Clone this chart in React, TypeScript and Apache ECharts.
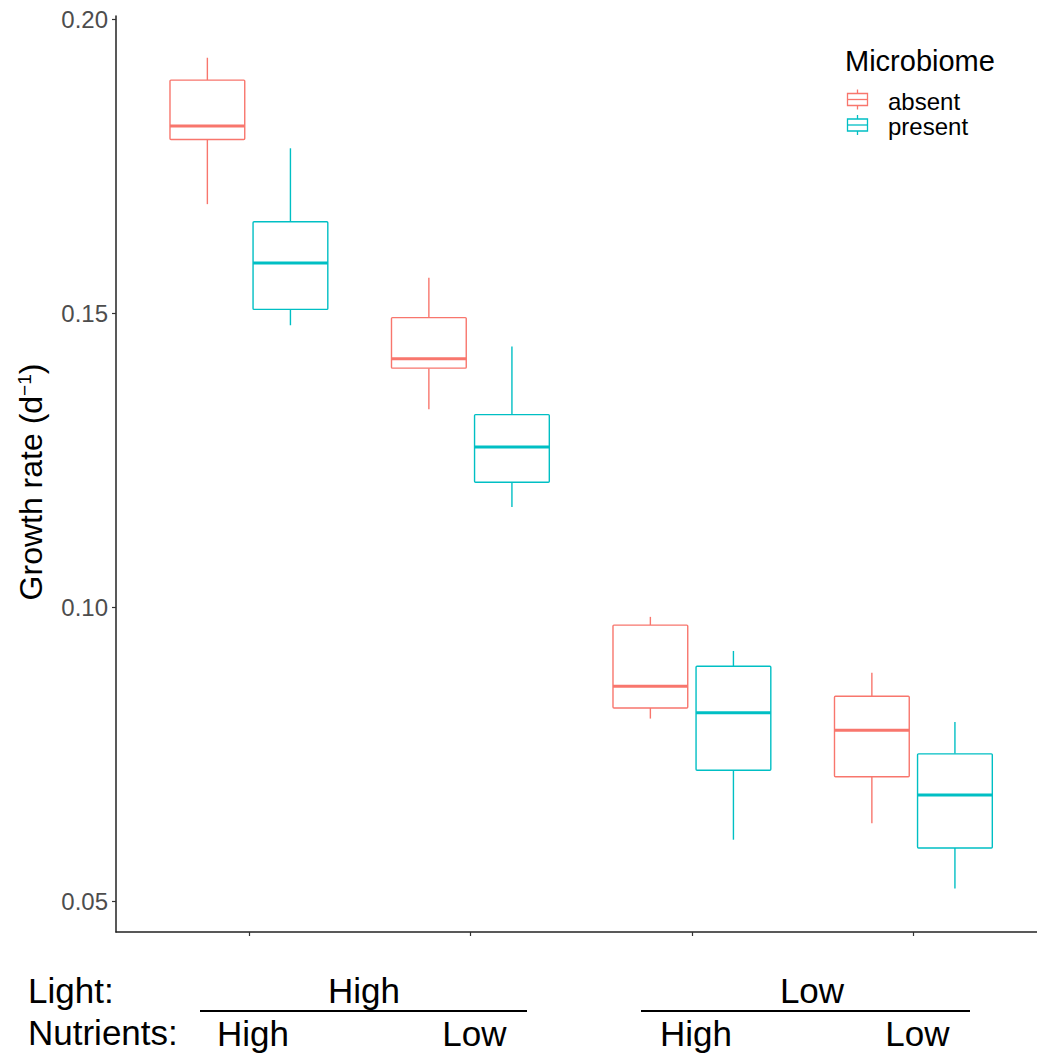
import React, { useEffect, useRef } from "react";
import * as echarts from "echarts";

// ---- data ----
const categories = ["HighLight-HighNutr", "HighLight-LowNutr", "LowLight-HighNutr", "LowLight-LowNutr"];
const nutrientLabels = ["High", "Low", "High", "Low"];
const lightLabels = ["High", "Low"];
const seriesNames = ["absent", "present"];
const seriesColors = ["#F8766D", "#00BFC4"];
// [min, Q1, median, Q3, max]
const absentStats = [
  [0.1686, 0.1796, 0.1819, 0.1897, 0.1935],
  [0.1337, 0.1407, 0.1423, 0.1493, 0.1561],
  [0.0811, 0.0829, 0.0866, 0.097, 0.0984],
  [0.0633, 0.0712, 0.0791, 0.0849, 0.0889],
];
const presentStats = [
  [0.148, 0.1507, 0.1586, 0.1656, 0.1781],
  [0.1171, 0.1213, 0.1273, 0.1328, 0.1444],
  [0.0605, 0.0723, 0.0821, 0.09, 0.0926],
  [0.0522, 0.0591, 0.0681, 0.0751, 0.0805],
];
const yTicks = [0.05, 0.1, 0.15, 0.2];

const FONT = "'Liberation Sans', Arial, Helvetica, sans-serif";

export default function App() {
  const ref = useRef<HTMLDivElement>(null);
  useEffect(() => {
    if (!ref.current) return;
    const chart = echarts.init(ref.current, null, { renderer: "svg" });
    const xTicks = categories.map((_, i) => i + 1);
    const allStats = [absentStats, presentStats];
    const dodge = [-0.1875, 0.1875];

    const series = allStats.map((stats, si) => ({
      type: "custom",
      name: seriesNames[si],
      data: stats.map((s, i) => [i + 1, ...s]),
      encode: { x: 0, y: [1, 2, 3, 4, 5] },
      renderItem: (params: any, api: any) => {
        const x = api.value(0);
        const lo = api.coord([x, api.value(1)]);
        const q1 = api.coord([x, api.value(2)]);
        const med = api.coord([x, api.value(3)]);
        const q3 = api.coord([x, api.value(4)]);
        const hi = api.coord([x, api.value(5)]);
        const unit = api.size([1, 0])[0];
        const cx = lo[0] + dodge[si] * unit;
        const half = (0.9 * 0.375 * unit) / 2;
        const color = seriesColors[si];
        const lw = 1.4;
        return {
          type: "group",
          children: [
            { type: "line", shape: { x1: cx, y1: hi[1], x2: cx, y2: q3[1] }, style: { stroke: color, lineWidth: lw } },
            { type: "line", shape: { x1: cx, y1: q1[1], x2: cx, y2: lo[1] }, style: { stroke: color, lineWidth: lw } },
            {
              type: "rect",
              shape: { x: cx - half, y: q3[1], width: 2 * half, height: q1[1] - q3[1], r: 1 },
              style: { fill: "#fff", stroke: color, lineWidth: lw },
            },
            { type: "line", shape: { x1: cx - half, y1: med[1], x2: cx + half, y2: med[1] }, style: { stroke: color, lineWidth: 3 } },
          ],
        };
      },
    }));

    const legendItems: any[] = [];
    seriesNames.forEach((name, i) => {
      const cy = 99.5 + i * 25.5;
      const c = seriesColors[i];
      legendItems.push(
        { type: "line", shape: { x1: 857.5, y1: cy - 10, x2: 857.5, y2: cy - 6 }, style: { stroke: c, lineWidth: 1.3 } },
        { type: "rect", shape: { x: 847.5, y: cy - 6, width: 20, height: 12 }, style: { fill: "#fff", stroke: c, lineWidth: 1.3 } },
        { type: "line", shape: { x1: 847.5, y1: cy, x2: 867.5, y2: cy }, style: { stroke: c, lineWidth: 1.3 } },
        { type: "line", shape: { x1: 857.5, y1: cy + 6, x2: 857.5, y2: cy + 10 }, style: { stroke: c, lineWidth: 1.3 } },
        { type: "text", x: 888, y: cy + 1.5, style: { text: name, fontSize: 24, fontFamily: FONT, fill: "#000", align: "left", verticalAlign: "middle" } }
      );
    });

    const option: any = {
      animation: false,
      backgroundColor: "#fff",
      grid: { left: 116, top: 16, width: 921, height: 916, containLabel: false },
      xAxis: {
        type: "value",
        min: 0.4,
        max: 0.4 + 921 / 221.5,
        splitLine: { show: false },
        axisLine: { show: true, lineStyle: { color: "#222", width: 1.5 } },
        axisTick: { show: true, customValues: xTicks, length: 4, lineStyle: { color: "#333", width: 1.2 } },
        axisLabel: {
          show: true,
          customValues: xTicks,
          formatter: (v: number) => nutrientLabels[Math.round(v) - 1] ?? "",
          fontSize: 35,
          fontFamily: FONT,
          color: "#000",
          margin: 84,
          padding: [0, 0, 0, 8],
        },
      },
      yAxis: {
        type: "value",
        min: 0.0448,
        max: 0.2006,
        splitLine: { show: false },
        axisLine: { show: true, lineStyle: { color: "#222", width: 1.5 } },
        axisTick: { show: true, customValues: yTicks, length: 4, lineStyle: { color: "#333", width: 1.2 } },
        axisLabel: {
          show: true,
          customValues: yTicks,
          formatter: (v: number) => v.toFixed(2),
          fontSize: 24,
          fontFamily: FONT,
          color: "#4d4d4d",
          margin: 8,
        },
        name: "{t|Growth rate (d}{s|−1}{t|)}",
        nameLocation: "middle",
        nameGap: 69,
        nameTextStyle: {
          color: "#000",
          fontFamily: FONT,
          fontSize: 32,
          padding: [0, 16, 0, 0],
          rich: {
            t: { fontSize: 32, fontFamily: FONT, color: "#000" },
            s: { fontSize: 19, fontFamily: FONT, color: "#000", verticalAlign: "top" },
          },
        },
      },
      series,
      graphic: [
        { type: "text", x: 845, y: 61, style: { text: "Microbiome", fontSize: 29, fontFamily: FONT, fill: "#000", align: "left", verticalAlign: "middle" } },
        ...legendItems,
        { type: "text", x: 28, y: 990, style: { text: "Light:", fontSize: 35, fontFamily: FONT, fill: "#000", align: "left", verticalAlign: "middle" } },
        { type: "text", x: 28, y: 1032, style: { text: "Nutrients:", fontSize: 35, fontFamily: FONT, fill: "#000", align: "left", verticalAlign: "middle" } },
        { type: "text", x: 364, y: 990, style: { text: lightLabels[0], fontSize: 35, fontFamily: FONT, fill: "#000", align: "center", verticalAlign: "middle" } },
        { type: "text", x: 812, y: 990, style: { text: lightLabels[1], fontSize: 35, fontFamily: FONT, fill: "#000", align: "center", verticalAlign: "middle" } },
        { type: "line", shape: { x1: 200, y1: 1011, x2: 527, y2: 1011 }, style: { stroke: "#000", lineWidth: 2 } },
        { type: "line", shape: { x1: 641, y1: 1011, x2: 970, y2: 1011 }, style: { stroke: "#000", lineWidth: 2 } },
      ],
    };
    chart.setOption(option);
    return () => chart.dispose();
  }, []);
  return <div ref={ref} style={{ position: "absolute", left: 0, top: 0, width: 1037, height: 1055 }} />;
}
